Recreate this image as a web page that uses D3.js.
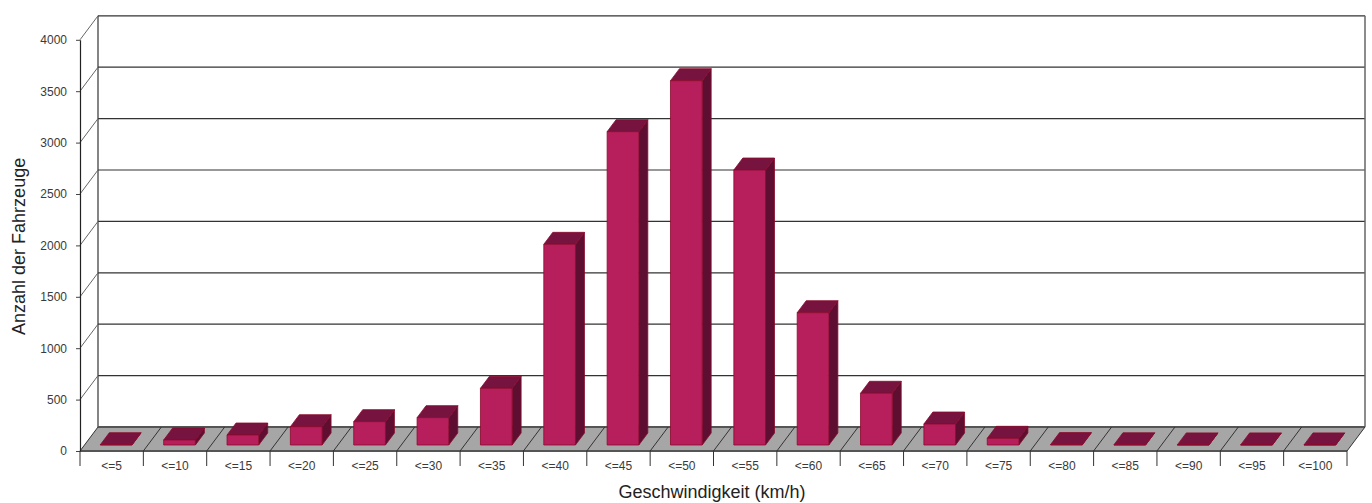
<!DOCTYPE html>
<html>
<head>
<meta charset="utf-8">
<script src="https://cdn.jsdelivr.net/npm/d3@7"></script>
<style>
  html, body { margin: 0; padding: 0; background: #ffffff; }
  svg { display: block; font-family: "Liberation Sans", Arial, sans-serif; }
</style>
</head>
<body>
<svg id="chart" width="1372" height="503"></svg>
<script>
// Speed classes and vehicle counts
const categories = ["<=5", "<=10", "<=15", "<=20", "<=25", "<=30", "<=35", "<=40", "<=45", "<=50",
                    "<=55", "<=60", "<=65", "<=70", "<=75", "<=80", "<=85", "<=90", "<=95", "<=100"];
const counts = [3, 49, 97, 178, 227, 266, 551, 1952, 3048, 3544,
                2675, 1287, 503, 204, 65, 4, 2, 1, 1, 1];
const yTicks = [0, 500, 1000, 1500, 2000, 2500, 3000, 3500, 4000];

const xTitle = "Geschwindigkeit (km/h)";
const yTitle = "Anzahl der Fahrzeuge";

const svg = d3.select("#chart");

// Front plane geometry and the oblique depth offset of the 3D box
const plotLeft = 80, plotRight = 1347, plotBottom = 451, plotTop = 39.8;
const DX = 18, DY = -24;
const barFront = 0.25, barBack = 0.75;

const x = d3.scaleBand().domain(categories).range([plotLeft, plotRight])
  .paddingInner(0.5).paddingOuter(0.25);
const y = d3.scaleLinear().domain([0, 4000]).range([plotBottom, plotTop]);

const step = x.step();
const boundary = c => x(c) - (step - x.bandwidth()) / 2;
const P = (px, py, d) => [px + d * DX, py + d * DY];
const pts = arr => arr.map(p => p.join(",")).join(" ");

const colors = {
  front: "#B71F5C", top: "#77133F", side: "#5E0E31", edge: "#8A0A2C",
  floor: "#A6A6A6", floorEdge: "#555555", grid: "#333333", wall: "#666666", text: "#3a3a3a"
};

const g = svg.append("g");

// Back wall gridlines
g.selectAll("line.grid").data(yTicks.filter(v => v > 0)).join("line")
  .attr("class", "grid")
  .attr("x1", plotLeft + DX).attr("x2", plotRight + DX)
  .attr("y1", d => y(d) + DY).attr("y2", d => y(d) + DY)
  .attr("stroke", colors.grid).attr("stroke-width", 1.2);

// Back wall verticals
g.append("line").attr("x1", plotLeft + DX).attr("x2", plotLeft + DX)
  .attr("y1", y(4000) + DY).attr("y2", y(0) + DY).attr("stroke", colors.grid).attr("stroke-width", 1.2);
g.append("line").attr("x1", plotRight + DX).attr("x2", plotRight + DX)
  .attr("y1", y(4000) + DY).attr("y2", y(0) + DY).attr("stroke", colors.wall).attr("stroke-width", 1.5);

// Side wall diagonals at each tick
g.selectAll("line.diag").data(yTicks.filter(v => v > 0)).join("line")
  .attr("class", "diag")
  .attr("x1", plotLeft).attr("y1", d => y(d))
  .attr("x2", plotLeft + DX).attr("y2", d => y(d) + DY)
  .attr("stroke", colors.wall).attr("stroke-width", 1);

// Floor
g.append("polygon")
  .attr("points", pts([[plotLeft, plotBottom], [plotRight, plotBottom], P(plotRight, plotBottom, 1), P(plotLeft, plotBottom, 1)]))
  .attr("fill", colors.floor).attr("stroke", "none");
g.append("line").attr("x1", plotLeft + DX).attr("x2", plotRight + DX)
  .attr("y1", plotBottom + DY).attr("y2", plotBottom + DY).attr("stroke", colors.floorEdge).attr("stroke-width", 2);
g.append("line").attr("x1", plotLeft).attr("x2", plotRight)
  .attr("y1", plotBottom).attr("y2", plotBottom).attr("stroke", colors.floorEdge).attr("stroke-width", 2);

// Floor separators between speed classes
const bounds = categories.map(boundary).concat([plotRight]);
g.selectAll("line.sep").data(bounds).join("line")
  .attr("class", "sep")
  .attr("x1", d => d).attr("y1", plotBottom)
  .attr("x2", d => d + DX).attr("y2", plotBottom + DY)
  .attr("stroke", "#333333").attr("stroke-width", 1);

// Bars as oblique boxes
const bars = g.selectAll("g.bar").data(categories.map((c, i) => ({ c, v: counts[i] }))).join("g")
  .attr("class", "bar");
bars.each(function (d) {
  const sel = d3.select(this);
  const x0 = x(d.c), x1 = x(d.c) + x.bandwidth();
  const yb = y(0), yt = y(d.v);
  const fbl = P(x0, yb, barFront), fbr = P(x1, yb, barFront);
  const ftl = P(x0, yt, barFront), ftr = P(x1, yt, barFront);
  const bbr = P(x1, yb, barBack), btl = P(x0, yt, barBack), btr = P(x1, yt, barBack);
  sel.append("polygon").attr("points", pts([fbr, ftr, btr, bbr]))
    .attr("fill", colors.side).attr("stroke", colors.edge).attr("stroke-width", 0.8).attr("stroke-linejoin", "round");
  sel.append("polygon").attr("points", pts([ftl, ftr, btr, btl]))
    .attr("fill", colors.top).attr("stroke", colors.edge).attr("stroke-width", 0.8).attr("stroke-linejoin", "round");
  sel.append("polygon").attr("points", pts([fbl, fbr, ftr, ftl]))
    .attr("fill", colors.front).attr("stroke", colors.edge).attr("stroke-width", 0.8).attr("stroke-linejoin", "round");
});

// Y axis
const yAxis = svg.append("g").attr("transform", `translate(${plotLeft},0)`)
  .call(d3.axisLeft(y).tickValues(yTicks).tickFormat(d3.format("d"))
    .tickSize(4).tickPadding(9).tickSizeOuter(0));
yAxis.select(".domain").attr("stroke", "#222").attr("stroke-width", 1.2);
yAxis.selectAll(".tick line").attr("stroke", "#444");
yAxis.selectAll(".tick text").attr("fill", colors.text).style("font-size", "12px")
  .style("font-family", "'Liberation Sans', Arial, sans-serif");

// X axis: labels centred in each class, ticks on class boundaries
const xAxis = svg.append("g").attr("transform", `translate(0,${plotBottom})`)
  .call(d3.axisBottom(x).tickSize(0).tickPadding(10));
xAxis.select(".domain").remove();
xAxis.selectAll(".tick text")
  .attr("fill", colors.text).style("font-size", "12px")
  .style("font-family", "'Liberation Sans', Arial, sans-serif");
xAxis.selectAll("line.bt").data(bounds).join("line")
  .attr("class", "bt")
  .attr("x1", d => d).attr("x2", d => d).attr("y1", 0).attr("y2", 15)
  .attr("stroke", "#333").attr("stroke-width", 1);

// Titles
svg.append("text").attr("x", 712).attr("y", 498)
  .attr("text-anchor", "middle").attr("fill", "#222").style("font-size", "18px").text(xTitle);
svg.append("text").attr("transform", `translate(25,${(plotTop + plotBottom) / 2 + 1}) rotate(-90)`)
  .attr("text-anchor", "middle").attr("fill", "#222").style("font-size", "18px").text(yTitle);
</script>
</body>
</html>
